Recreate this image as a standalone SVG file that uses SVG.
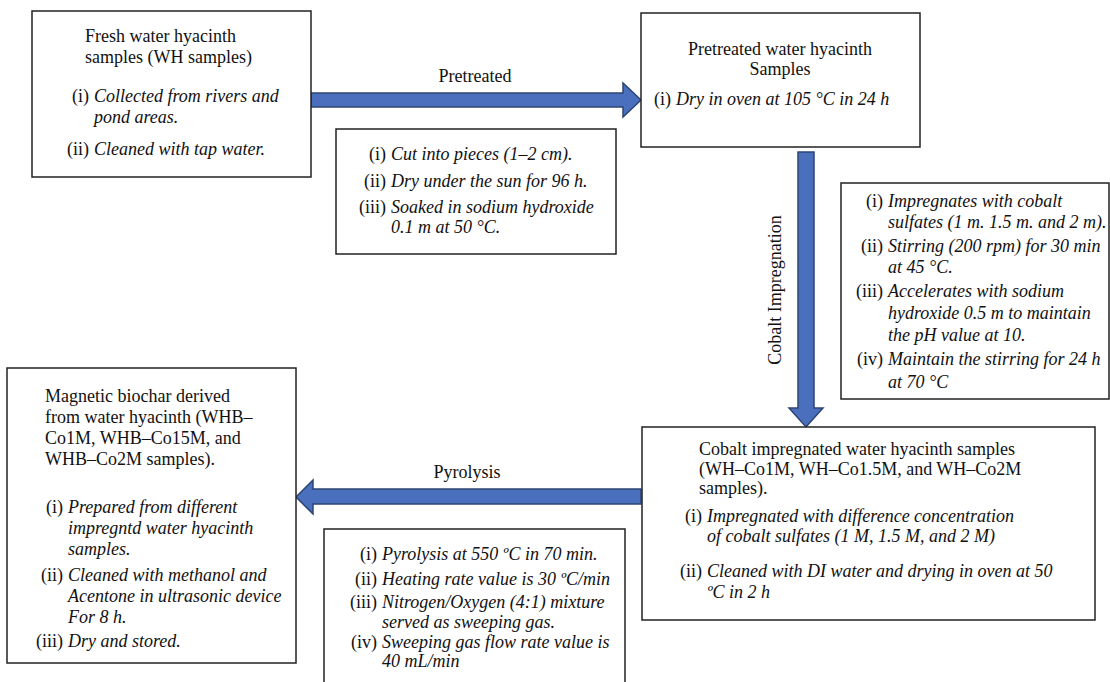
<svg xmlns="http://www.w3.org/2000/svg" width="1110" height="682" viewBox="0 0 1110 682">
<style>
.box{fill:#fff;stroke:#222;stroke-width:1.5}
.arr{fill:#4a70bd;stroke:#2c4474;stroke-width:1.5}
text{font-family:"Liberation Serif","Times New Roman",serif;font-size:18px;fill:#111}
.it{font-style:italic}
.lb{text-anchor:end}
.mid{text-anchor:middle}
</style>
<rect width="1110" height="682" fill="#fff"/>
<g id="connectors">
<polygon class="arr" points="311,93 623,93 623,83 641,100 623,117 623,107 311,107"/>
<text class="mid" x="475" y="82">Pretreated</text>
<polygon class="arr" points="798,152 814,152 814,408 823,408 806,427 789,408 798,408"/>
<text class="mid" transform="translate(781,290) rotate(-90)">Cobalt Impregnation</text>
<polygon class="arr" points="641,489 313,489 313,480 296,497 313,514 313,504 641,504"/>
<text class="mid" x="467" y="478">Pyrolysis</text>
</g>
<g id="fresh">
<rect class="box" x="32" y="11" width="279" height="166"/>
<text x="85" y="42">Fresh water hyacinth</text>
<text x="85" y="63">samples (WH samples)</text>
<text class="lb" x="89" y="102">(i)</text><text class="it" x="94" y="102">Collected from rivers and</text>
<text class="it" x="94" y="123">pond areas.</text>
<text class="lb" x="89" y="155">(ii)</text><text class="it" x="94" y="155">Cleaned with tap water.</text>
</g>
<g id="pretreat-steps">
<rect class="box" x="336" y="129" width="280" height="125"/>
<text class="lb" x="386" y="160">(i)</text><text class="it" x="391" y="160">Cut into pieces (1–2 cm).</text>
<text class="lb" x="386" y="187">(ii)</text><text class="it" x="391" y="187">Dry under the sun for 96 h.</text>
<text class="lb" x="386" y="213">(iii)</text><text class="it" x="391" y="213">Soaked in sodium hydroxide</text>
<text class="it" x="391" y="233">0.1 m at 50 °C.</text>
</g>
<g id="pretreated">
<rect class="box" x="641" y="13" width="279" height="134"/>
<text class="mid" x="780" y="55">Pretreated water hyacinth</text>
<text class="mid" x="780" y="75">Samples</text>
<text class="lb" x="671" y="105">(i)</text><text class="it" x="676" y="105">Dry in oven at 105 °C in 24 h</text>
</g>
<g id="cobalt-steps">
<rect class="box" x="841" y="183" width="268" height="216"/>
<text class="lb" x="883" y="207">(i)</text><text class="it" x="888" y="207">Impregnates with cobalt</text>
<text class="it" x="888" y="228">sulfates (1 m. 1.5 m. and 2 m).</text>
<text class="lb" x="883" y="252">(ii)</text><text class="it" x="888" y="252">Stirring (200 rpm) for 30 min</text>
<text class="it" x="888" y="273">at 45 °C.</text>
<text class="lb" x="883" y="297">(iii)</text><text class="it" x="888" y="297">Accelerates with sodium</text>
<text class="it" x="888" y="319">hydroxide 0.5 m to maintain</text>
<text class="it" x="888" y="341">the pH value at 10.</text>
<text class="lb" x="883" y="365">(iv)</text><text class="it" x="888" y="365">Maintain the stirring for 24 h</text>
<text class="it" x="888" y="388">at 70 °C</text>
</g>
<g id="cobalt">
<rect class="box" x="642" y="427" width="453" height="193"/>
<text x="699" y="455">Cobalt impregnated water hyacinth samples</text>
<text x="699" y="475">(WH–Co1M, WH–Co1.5M, and WH–Co2M</text>
<text x="699" y="494">samples).</text>
<text class="lb" x="702" y="522">(i)</text><text class="it" x="707" y="522">Impregnated with difference concentration</text>
<text class="it" x="707" y="542">of cobalt sulfates (1 M, 1.5 M, and 2 M)</text>
<text class="lb" x="702" y="577">(ii)</text><text class="it" x="707" y="577">Cleaned with DI water and drying in oven at 50</text>
<text class="it" x="707" y="598">ºC in 2 h</text>
</g>
<g id="pyro-steps">
<rect class="box" x="324" y="529" width="301" height="170"/>
<text class="lb" x="377" y="560">(i)</text><text class="it" x="382" y="560">Pyrolysis at 550 ºC in 70 min.</text>
<text class="lb" x="377" y="585">(ii)</text><text class="it" x="382" y="585">Heating rate value is 30 ºC/min</text>
<text class="lb" x="377" y="608">(iii)</text><text class="it" x="382" y="608">Nitrogen/Oxygen (4:1) mixture</text>
<text class="it" x="382" y="628">served as sweeping gas.</text>
<text class="lb" x="377" y="648">(iv)</text><text class="it" x="382" y="648">Sweeping gas flow rate value is</text>
<text class="it" x="382" y="667">40 mL/min</text>
</g>
<g id="biochar">
<rect class="box" x="7" y="368" width="289" height="295"/>
<text x="45" y="402">Magnetic biochar derived</text>
<text x="45" y="423">from water hyacinth (WHB–</text>
<text x="45" y="444">Co1M, WHB–Co15M, and</text>
<text x="45" y="465">WHB–Co2M samples).</text>
<text class="lb" x="63" y="513">(i)</text><text class="it" x="68" y="513">Prepared from different</text>
<text class="it" x="68" y="534">impregntd water hyacinth</text>
<text class="it" x="68" y="555">samples.</text>
<text class="lb" x="63" y="581">(ii)</text><text class="it" x="68" y="581">Cleaned with methanol and</text>
<text class="it" x="68" y="602">Acentone in ultrasonic device</text>
<text class="it" x="68" y="623">For 8 h.</text>
<text class="lb" x="63" y="647">(iii)</text><text class="it" x="68" y="647">Dry and stored.</text>
</g>
</svg>
